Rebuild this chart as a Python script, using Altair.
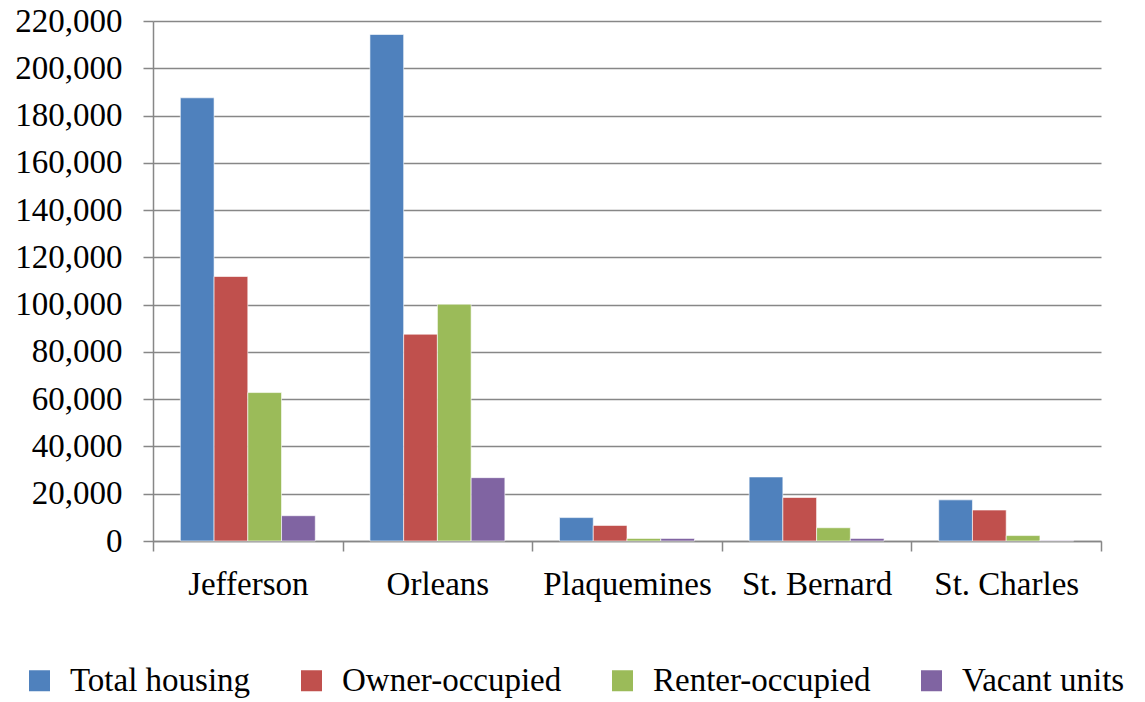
import altair as alt
import pandas as pd

parishes = ["Jefferson", "Orleans", "Plaquemines", "St. Bernard", "St. Charles"]
series = ["Total housing", "Owner-occupied", "Renter-occupied", "Vacant units"]
total_housing = [187500, 214300, 9900, 27100, 17400]
owner_occupied = [111900, 87500, 6600, 18400, 13100]
renter_occupied = [62800, 100200, 1100, 5600, 2300]
vacant_units = [10700, 26800, 1100, 1100, 200]
colors = ["#4F81BD", "#C0504D", "#9BBB59", "#8064A2"]
y_ticks = list(range(0, 220001, 20000))

rows = []
for name, vals in zip(series, [total_housing, owner_occupied, renter_occupied, vacant_units]):
    for p, v in zip(parishes, vals):
        rows.append({"parish": p, "series": name, "value": v})
df = pd.DataFrame(rows)

FONT = "Times New Roman, Liberation Serif, serif"
FS = 33
GRID = "#878787"

chart = alt.Chart(df).mark_bar(
    stroke="white", strokeWidth=1, strokeOpacity=0.6
).encode(
    x=alt.X("parish:N", sort=parishes, title=None,
            scale=alt.Scale(paddingInner=0, paddingOuter=0),
            axis=alt.Axis(labelAngle=0, tickBand="extent", tickSize=10,
                          labelPadding=17, labelFontSize=FS, labelFont=FONT,
                          labelColor="black", domainColor=GRID, tickColor=GRID,
                          domainWidth=1.5, tickWidth=1.5, grid=False)),
    xOffset=alt.XOffset("series:N", sort=series,
                        scale=alt.Scale(paddingInner=0, paddingOuter=0.81)),
    y=alt.Y("value:Q", title=None,
            scale=alt.Scale(domain=[0, 220000], nice=False),
            axis=alt.Axis(values=y_ticks, format=",.0f", tickSize=10, labelPadding=21,
                          labelFontSize=FS, labelFont=FONT, labelColor="black",
                          domainColor=GRID, tickColor=GRID, gridColor=GRID,
                          domainWidth=1.5, tickWidth=1.5, gridWidth=1.5, grid=True)),
    color=alt.Color("series:N", sort=series, title=None,
                    scale=alt.Scale(domain=series, range=colors),
                    legend=alt.Legend(orient="none", legendX=-130, legendY=643,
                                      direction="horizontal", symbolType="square",
                                      symbolSize=441, symbolStrokeWidth=0,
                                      labelFont=FONT, labelFontSize=FS, labelColor="black",
                                      labelOffset=14, columnPadding=44, padding=0,
                                      labelLimit=400)),
).properties(
    width=948, height=520,
    autosize=alt.AutoSizeParams(type="none"),
    padding={"left": 145, "top": 13, "right": 36, "bottom": 161},
).configure(font=FONT).configure_view(stroke=None)

chart.save("out.html", embed_options={"renderer": "svg", "actions": False})
